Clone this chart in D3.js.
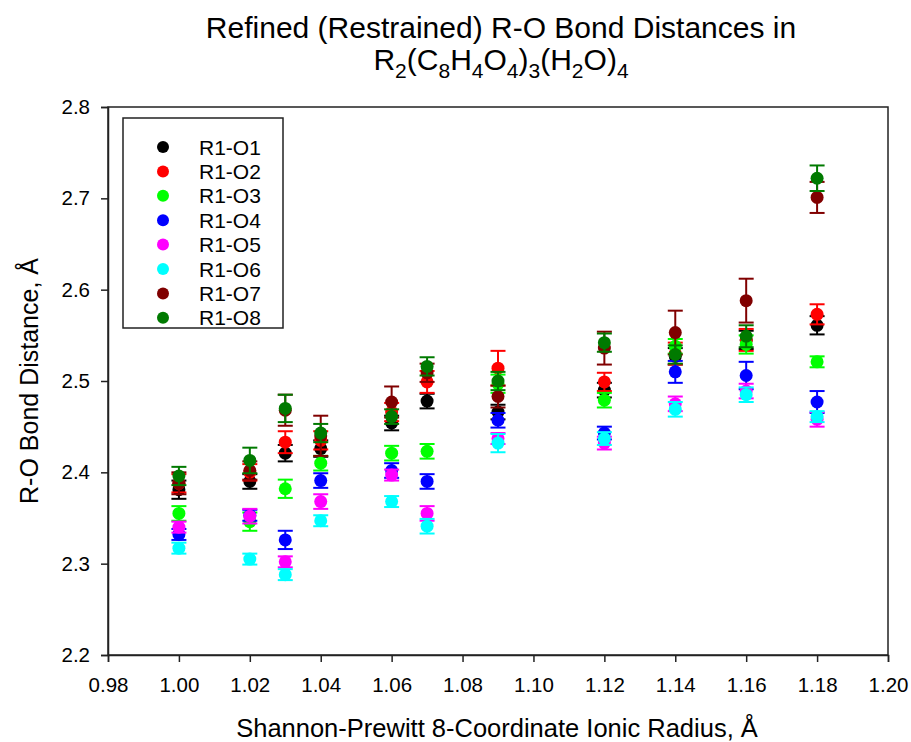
<!DOCTYPE html>
<html><head><meta charset="utf-8">
<script src="https://cdn.jsdelivr.net/npm/d3@7"></script>
<style>body{margin:0;background:#fff}svg{display:block}text{font-family:"Liberation Sans",Arial,sans-serif;fill:#000}</style>
</head><body>
<svg id="c" width="911" height="742"></svg>
<script>
const radii = [1.00,1.02,1.03,1.04,1.06,1.07,1.09,1.12,1.14,1.16,1.18];
const seriesNames = ["R1-O1","R1-O2","R1-O3","R1-O4","R1-O5","R1-O6","R1-O7","R1-O8"];
const seriesColors = ["#000000","#ff0000","#00ff00","#0000ff","#ff00ff","#00ffff","#800000","#007a00"];
const O1 = [2.381,2.390,2.421,2.426,2.454,2.478,2.466,2.490,2.527,2.545,2.561];
const O2 = [2.388,2.400,2.433,2.435,2.466,2.499,2.514,2.499,2.530,2.545,2.573];
const O3 = [2.355,2.346,2.382,2.410,2.421,2.423,2.497,2.479,2.538,2.540,2.521];
const O4 = [2.332,2.353,2.326,2.391,2.402,2.390,2.457,2.443,2.510,2.506,2.477];
const O5 = [2.340,2.352,2.302,2.368,2.397,2.355,2.437,2.432,2.475,2.489,2.458];
const O6 = [2.317,2.305,2.288,2.347,2.368,2.341,2.432,2.437,2.469,2.485,2.461];
const O7 = [2.388,2.402,2.468,2.440,2.477,2.509,2.483,2.536,2.553,2.588,2.701];
const O8 = [2.396,2.413,2.470,2.443,2.461,2.516,2.500,2.542,2.529,2.549,2.722];
const E1 = [0.010,0.008,0.009,0.009,0.008,0.008,0.008,0.008,0.009,0.010,0.010];
const E2 = [0.010,0.009,0.012,0.010,0.010,0.012,0.019,0.010,0.012,0.012,0.011];
const E3 = [0.008,0.010,0.010,0.008,0.008,0.008,0.010,0.008,0.008,0.010,0.006];
const E4 = [0.006,0.006,0.010,0.008,0.008,0.008,0.008,0.007,0.012,0.015,0.012];
const E5 = [0.006,0.008,0.006,0.008,0.006,0.008,0.006,0.007,0.008,0.008,0.008];
const E6 = [0.006,0.006,0.006,0.006,0.006,0.008,0.010,0.007,0.008,0.008,0.006];
const E7 = [0.012,0.010,0.017,0.022,0.017,0.010,0.012,0.018,0.024,0.024,0.017];
const E8 = [0.010,0.014,0.015,0.010,0.008,0.010,0.010,0.010,0.010,0.012,0.014];
const xTicks = [0.98,1.00,1.02,1.04,1.06,1.08,1.10,1.12,1.14,1.16,1.18,1.20];
const yTicks = [2.2,2.3,2.4,2.5,2.6,2.7,2.8];

const values = [O1,O2,O3,O4,O5,O6,O7,O8];
const errors = [E1,E2,E3,E4,E5,E6,E7,E8];

const svg = d3.select("#c");
const L = 108, R = 888, T = 107, B = 655;
const x = d3.scaleLinear().domain([0.98,1.20]).range([L,R]);
const y = d3.scaleLinear().domain([2.2,2.8]).range([B,T]);

svg.append("rect").attr("x",L).attr("y",T).attr("width",R-L).attr("height",B-T)
  .attr("fill","none").attr("stroke","#222").attr("stroke-width",1.5);

const xa = svg.append("g").attr("transform",`translate(0,${B})`)
  .call(d3.axisBottom(x).tickValues(xTicks).tickFormat(d3.format(".2f")).tickSize(7).tickPadding(15));
const ya = svg.append("g").attr("transform",`translate(${L},0)`)
  .call(d3.axisLeft(y).tickValues(yTicks).tickFormat(d3.format(".1f")).tickSize(7).tickPadding(11));
[xa,ya].forEach(a=>{
  a.select(".domain").attr("stroke","#222").attr("stroke-width",1.5);
  a.selectAll(".tick line").attr("stroke","#222").attr("stroke-width",1.5);
  a.selectAll("text").style("font-family","'Liberation Sans',Arial,sans-serif").style("font-size","20.5px").attr("fill","#000");
});

values.forEach((vals,si)=>{
  const g = svg.append("g");
  const col = seriesColors[si];
  const pts = radii.map((r,i)=>({r, v:vals[i], e:errors[si][i]}));
  g.selectAll("line.bar").data(pts).join("line")
    .attr("x1",d=>x(d.r)).attr("x2",d=>x(d.r))
    .attr("y1",d=>y(d.v-d.e)).attr("y2",d=>y(d.v+d.e))
    .attr("stroke",col).attr("stroke-width",2);
  ["top","bot"].forEach(k=>{
    g.selectAll("line."+k).data(pts).join("line")
      .attr("x1",d=>x(d.r)-7.5).attr("x2",d=>x(d.r)+7.5)
      .attr("y1",d=>y(k==="top"?d.v+d.e:d.v-d.e)).attr("y2",d=>y(k==="top"?d.v+d.e:d.v-d.e))
      .attr("stroke",col).attr("stroke-width",2);
  });
  g.selectAll("circle").data(pts).join("circle")
    .attr("cx",d=>x(d.r)).attr("cy",d=>y(d.v)).attr("r",6.5).attr("fill",col);
});

const lg = svg.append("g");
lg.append("rect").attr("x",123).attr("y",118).attr("width",160).attr("height",210)
  .attr("fill","#fff").attr("stroke","#222").attr("stroke-width",1.5);
seriesNames.forEach((n,i)=>{
  const yy = 147 + i*24.4;
  lg.append("circle").attr("cx",163).attr("cy",yy).attr("r",6).attr("fill",seriesColors[i]);
  lg.append("text").attr("x",199).attr("y",yy+7.5).style("font-size","21px").text(n);
});

const t = svg.append("text").attr("x",501).attr("y",38).attr("text-anchor","middle").style("font-size","30px")
  .text("Refined (Restrained) R-O Bond Distances in");
const t2 = svg.append("text").attr("x",501).attr("y",70).attr("text-anchor","middle").style("font-size","30px");
const parts = [["R",0],["2",1],["(C",0],["8",1],["H",0],["4",1],["O",0],["4",1],[")",0],["3",1],["(H",0],["2",1],["O)",0],["4",1]];
parts.forEach(([s,sub],i)=>{
  const prevSub = i>0 && parts[i-1][1];
  const ts = t2.append("tspan").text(s).attr("dy", sub?8:(prevSub?-8:0));
  if(sub) ts.style("font-size","21px");
});

svg.append("text").attr("x",497).attr("y",737).attr("text-anchor","middle").style("font-size","25.5px")
  .text("Shannon-Prewitt 8-Coordinate Ionic Radius, Å");
svg.append("text").attr("transform","translate(38,381) rotate(-90)").attr("text-anchor","middle").style("font-size","25px")
  .text("R-O Bond Distance, Å");
</script>
</body></html>
